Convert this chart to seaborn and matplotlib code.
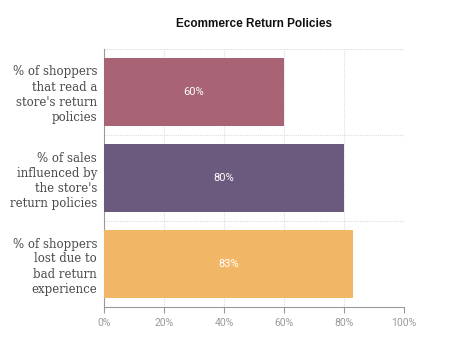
import matplotlib
matplotlib.use("Agg")
import matplotlib.pyplot as plt
import seaborn as sns
import pandas as pd
from matplotlib.ticker import PercentFormatter

categories = [
    "% of shoppers\nthat read a\nstore's return\npolicies",
    "% of sales\ninfluenced by\nthe store's\nreturn policies",
    "% of shoppers\nlost due to\nbad return\nexperience",
]
values = [60, 80, 83]
colors = ["#A86474", "#6B5A7D", "#F2B766"]
x_ticks = [0, 20, 40, 60, 80, 100]

df = pd.DataFrame({"category": categories, "value": values})

sns.set_theme(style="white")
plt.rcParams["font.family"] = ["Roboto", "DejaVu Sans"]

fig = plt.figure(figsize=(4.5, 3.4), dpi=100)
ax = fig.add_axes([104 / 450, 33 / 340, 300 / 450, 258 / 340])

sns.barplot(data=df, y="category", x="value", hue="category",
            palette=colors, legend=False, width=0.8, ax=ax,
            edgecolor="none", saturation=1, zorder=3)

ax.set_xlim(0, 100)
ax.set_ylim(2.5, -0.5)
ax.set_xticks(x_ticks)
ax.xaxis.set_major_formatter(PercentFormatter(decimals=0))
ax.tick_params(axis="x", colors="#999999", labelsize=7.5, length=4,
               width=0.8, direction="out", bottom=True, pad=4)
ax.tick_params(axis="y", length=0, pad=5)
for lab in ax.get_yticklabels():
    lab.set_fontfamily(["DejaVu Serif"])
    lab.set_fontsize(8.5)
    lab.set_color("#4a4a4a")
    lab.set_linespacing(1.2)
ax.set_xlabel("")
ax.set_ylabel("")

# dotted grid: vertical at ticks, horizontal between categories
for xv in x_ticks[1:]:
    ax.axvline(xv, color="#dddddd", lw=0.8, ls=(0, (1, 1)), zorder=1)
for yv in [-0.5, 0.5, 1.5]:
    ax.axhline(yv, color="#dddddd", lw=0.8, ls=(0, (1, 1)), zorder=1)

for side in ["top", "right"]:
    ax.spines[side].set_visible(False)
for side in ["left", "bottom"]:
    ax.spines[side].set_color("#999999")
    ax.spines[side].set_linewidth(0.8)

for i, v in enumerate(values):
    ax.text(v / 2, i, f"{v}%", color="white", ha="center", va="center",
            fontsize=8, zorder=4)

fig.text(254 / 450, 1 - 24 / 340, "Ecommerce Return Policies",
         ha="center", va="center", fontsize=8.5, fontweight="bold",
         family=["Liberation Sans", "DejaVu Sans"], color="#111111")

fig.savefig("out.png", dpi=100, facecolor="white")
